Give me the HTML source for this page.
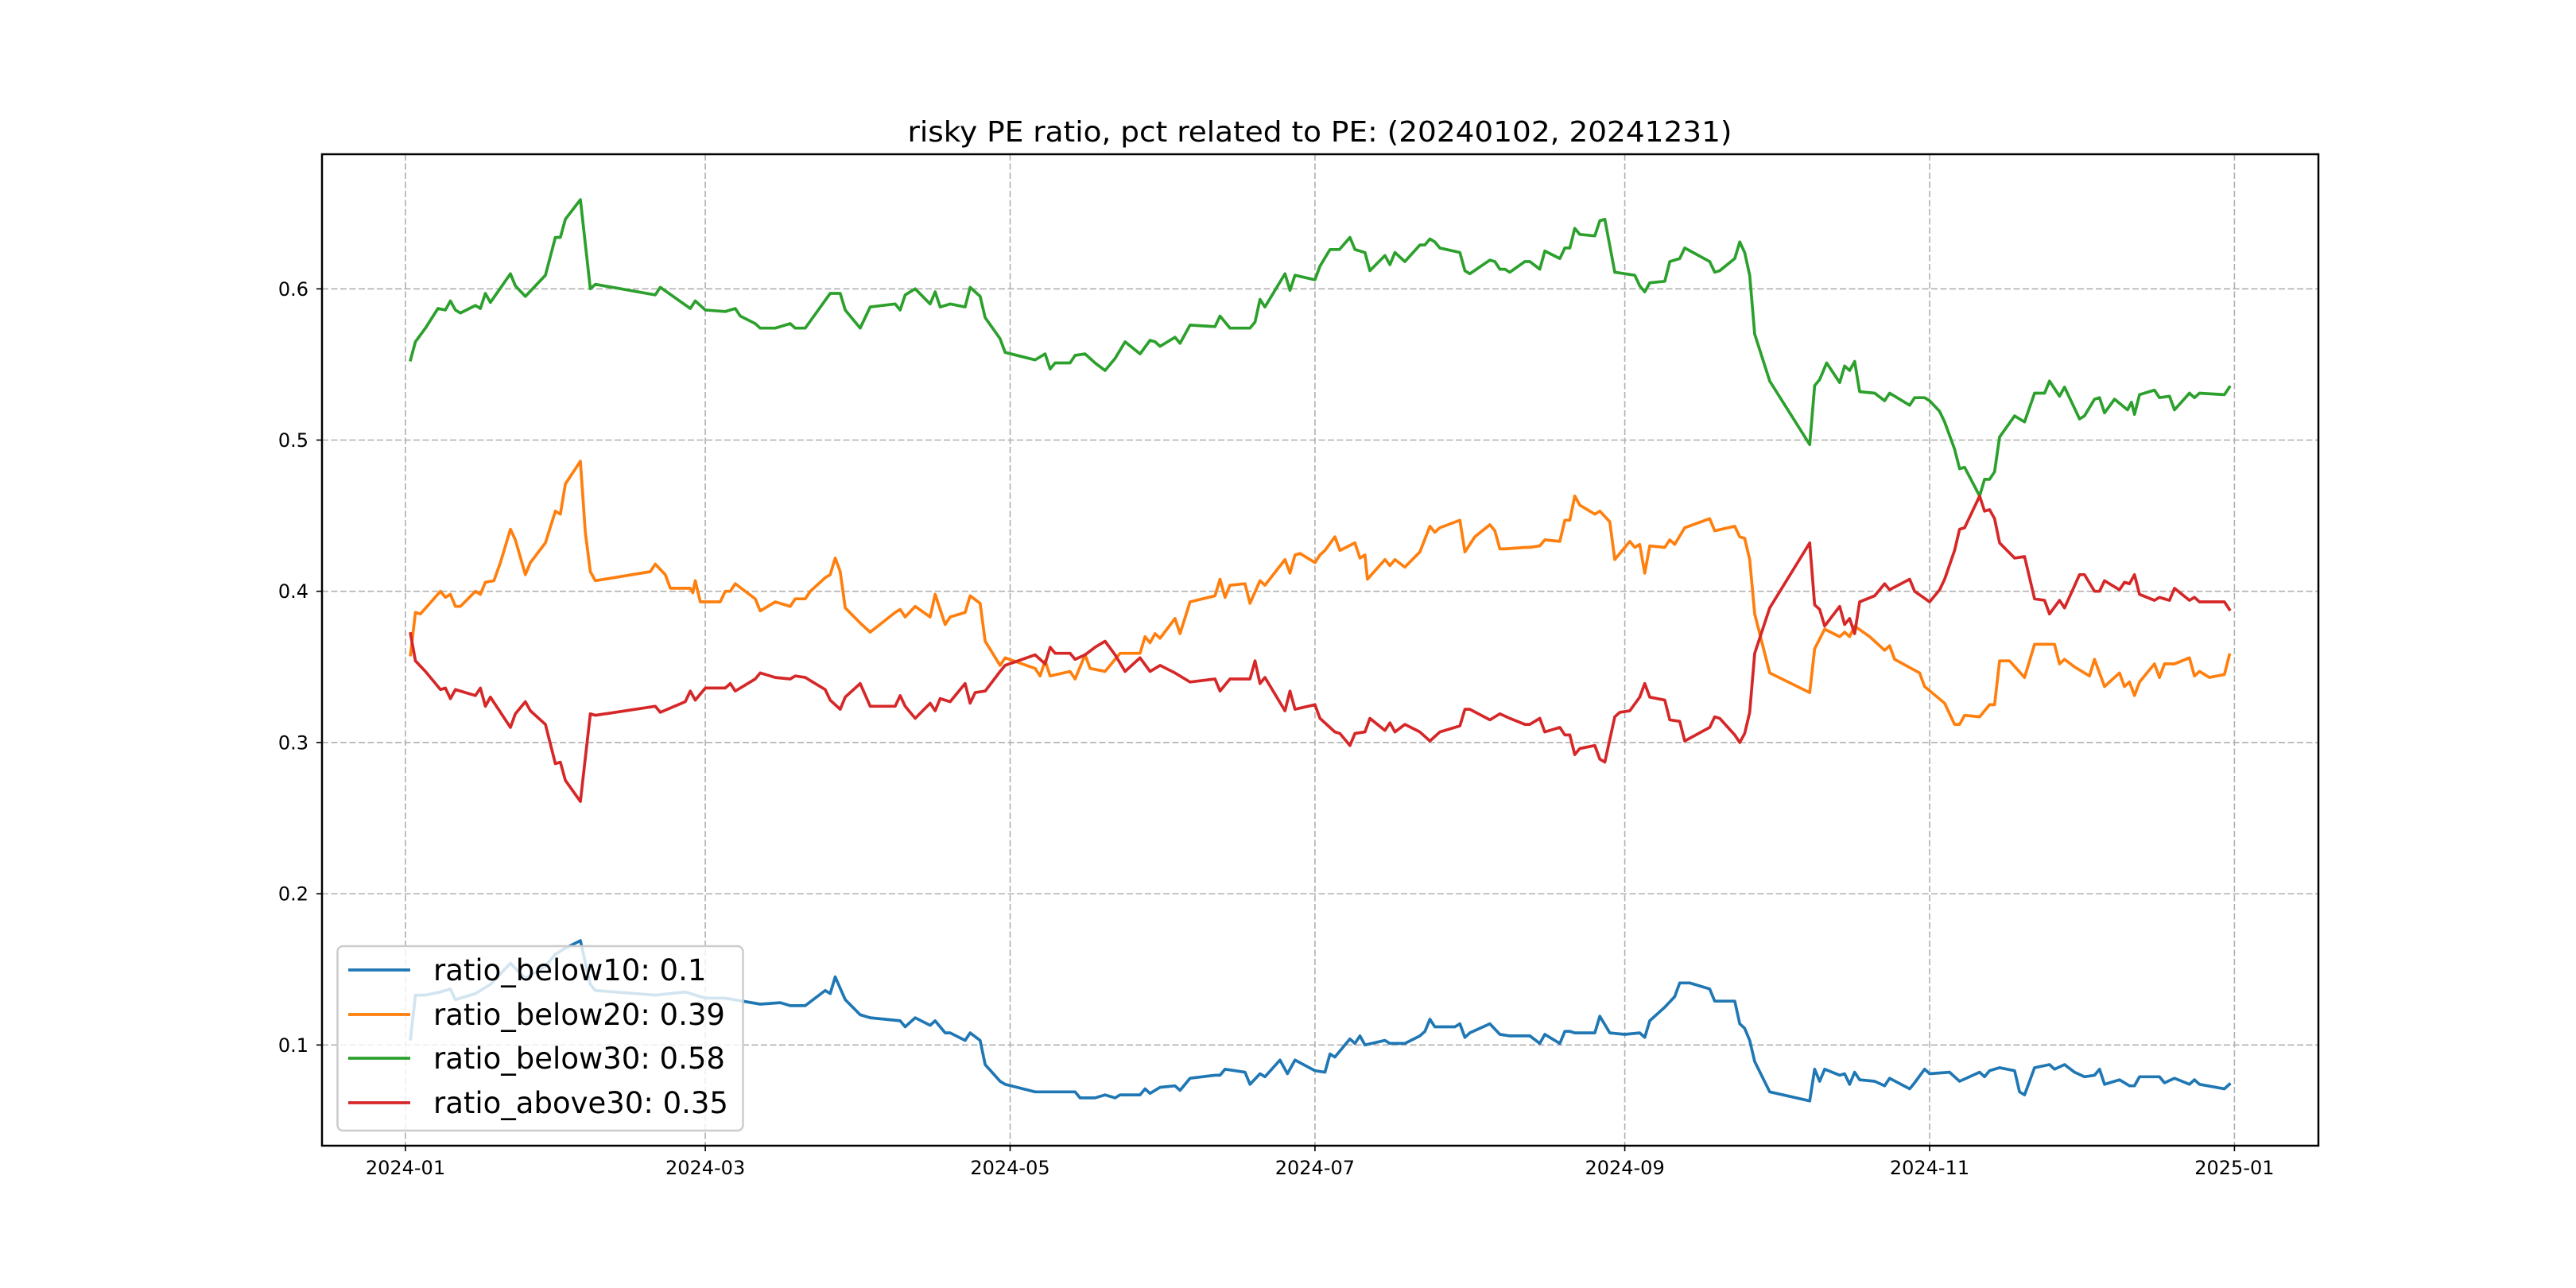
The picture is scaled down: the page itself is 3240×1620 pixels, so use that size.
<!DOCTYPE html>
<html><head><meta charset="utf-8"><style>
html,body{margin:0;padding:0;background:#fff;}
svg{display:block;}
text{font-family:"DejaVu Sans","Liberation Sans",sans-serif;}
</style></head><body>
<svg id="chart" width="3240" height="1620" viewBox="0 0 3240 1620" xmlns="http://www.w3.org/2000/svg">
<rect x="0" y="0" width="3240" height="1620" fill="#fff"/>
<text x="1660" y="178" font-size="36" text-anchor="middle" textLength="1037" lengthAdjust="spacingAndGlyphs">risky PE ratio, pct related to PE: (20240102, 20241231)</text>
<g id="grid"></g>
<g id="series"></g>
<rect x="405" y="194" width="2511" height="1247" fill="none" stroke="#000" stroke-width="2.5"/>
<g id="ticks"></g>
<g id="legend"></g>
</svg>
<script>
const yTicks = [0.1, 0.2, 0.3, 0.4, 0.5, 0.6];
const yTickLabels = ["0.1", "0.2", "0.3", "0.4", "0.5", "0.6"];
const xTickDays = [0, 60, 121, 182, 244, 305, 366];
const xTickLabels = ["2024-01", "2024-03", "2024-05", "2024-07", "2024-09", "2024-11", "2025-01"];
const seriesNames = ["ratio_below10: 0.1", "ratio_below20: 0.39", "ratio_below30: 0.58", "ratio_above30: 0.35"];
const seriesColors = ["#1f77b4", "#ff7f0e", "#2ca02c", "#d62728"];

const blueDays = [1,2,4,7,9,10,14,17,21,24,28,30,32,35,37,38,50,56,60,64,71,75,77,80,84,85,86,88,91,93,99,100,102,105,106,108,109,112,113,115,116,119,120,126,134,135,138,140,142,143,147,148,149,151,154,155,157,162,163,164,168,169,171,172,175,176.5,178,182,184,185,186,189,190,191,192,196,197,200,203,204,205,206,210,211,212,213,217,219,221,225,227,228,231,232,233,234,238,239,241,244,247,248,249,252,254,255,257,261,262,266,267,268,269,270,273,281,282,283,284,287,288,289,290,291,294,296,297,301,302,304,305,309,311,315,316,317,319,322,323,324,326,329,330,332,334,336,338,339,340,343,345,346,347,351,352,354,357,358,359,364,365];
const blueVals = [0.104,0.133,0.133,0.135,0.137,0.130,0.134,0.140,0.154,0.144,0.152,0.160,0.164,0.169,0.140,0.136,0.133,0.135,0.131,0.131,0.127,0.128,0.126,0.126,0.136,0.134,0.145,0.130,0.120,0.118,0.116,0.112,0.118,0.113,0.116,0.108,0.108,0.103,0.108,0.103,0.087,0.076,0.074,0.069,0.069,0.065,0.065,0.067,0.065,0.067,0.067,0.071,0.068,0.072,0.073,0.070,0.078,0.080,0.080,0.084,0.082,0.074,0.081,0.079,0.090,0.081,0.090,0.083,0.082,0.094,0.092,0.104,0.101,0.106,0.100,0.103,0.101,0.101,0.106,0.109,0.117,0.112,0.112,0.114,0.105,0.108,0.114,0.107,0.106,0.106,0.101,0.107,0.101,0.109,0.109,0.108,0.108,0.119,0.108,0.107,0.108,0.105,0.116,0.125,0.132,0.141,0.141,0.137,0.129,0.129,0.114,0.111,0.103,0.089,0.069,0.063,0.084,0.076,0.084,0.080,0.081,0.074,0.082,0.077,0.076,0.073,0.078,0.071,0.075,0.084,0.081,0.082,0.076,0.082,0.079,0.083,0.085,0.083,0.069,0.067,0.085,0.087,0.084,0.087,0.082,0.079,0.080,0.084,0.074,0.077,0.073,0.073,0.079,0.079,0.075,0.078,0.074,0.077,0.074,0.071,0.074];

const orangeDays = [1,2,3,7,8,9,10,11,14,15,16,17.7,19,21,22,24,25,28,30,31,32,35,36,37,38,49,50,52,53,57,57.5,58,59,63,64,65,66,70,71,74,77,78,80,81,84,85,86,87,88,91,93,98,99,100,102,105,106,108,109,112,113,115,116,119,120,126,127,128,129,133,134,136,137,140,143,147,148,149,150,151,154,155,157,162,163,164,165,168,169,171,172,176,177,178,179,182,183,184,186,187,190,191,192,192.5,196,197,198,200,203,205,206,207,211,212,214,217,218,219,220,224,225,227,228,231,232,233,234,235,238,239,241,242,245,246,247,248,249,252,253,254,256,261,262,266,267,268,269,270,273,281,282,284,287,288,289,290,293,294,296,297,298,303,304,308,310,311,312,315,317,318,319,321,324,326,330,331,332,334,337,338,340,343,344,345,346,347,350,351,352,354,357,358,359,361,364,365];
const orangeVals = [0.358,0.386,0.385,0.400,0.396,0.398,0.390,0.390,0.400,0.398,0.406,0.407,0.419,0.441,0.434,0.411,0.419,0.432,0.453,0.451,0.471,0.486,0.439,0.413,0.407,0.413,0.418,0.411,0.402,0.402,0.399,0.407,0.393,0.393,0.400,0.400,0.405,0.395,0.387,0.393,0.390,0.395,0.395,0.400,0.409,0.411,0.422,0.413,0.389,0.379,0.373,0.386,0.388,0.383,0.390,0.383,0.398,0.378,0.383,0.386,0.397,0.392,0.367,0.351,0.356,0.349,0.344,0.354,0.344,0.347,0.342,0.358,0.349,0.347,0.359,0.359,0.370,0.366,0.372,0.369,0.382,0.372,0.393,0.397,0.408,0.396,0.404,0.405,0.392,0.407,0.404,0.421,0.412,0.424,0.425,0.419,0.424,0.427,0.436,0.427,0.432,0.422,0.424,0.408,0.421,0.417,0.421,0.416,0.426,0.443,0.439,0.442,0.447,0.426,0.436,0.444,0.440,0.428,0.428,0.429,0.429,0.430,0.434,0.433,0.447,0.447,0.463,0.457,0.451,0.453,0.446,0.421,0.433,0.429,0.431,0.412,0.430,0.429,0.434,0.431,0.442,0.448,0.440,0.443,0.436,0.435,0.421,0.385,0.346,0.333,0.362,0.375,0.370,0.373,0.370,0.377,0.370,0.367,0.361,0.364,0.355,0.346,0.337,0.326,0.312,0.312,0.318,0.317,0.325,0.325,0.354,0.354,0.343,0.365,0.365,0.352,0.355,0.350,0.344,0.355,0.337,0.346,0.337,0.340,0.331,0.340,0.352,0.343,0.352,0.352,0.356,0.344,0.347,0.343,0.345,0.358];

const greenDays = [1,2,4,6.5,8,9,10,11,14,15,16,17,21,22,24,28,30,31,32,35,37,38,50,51,57,58,60,64,66,67,70,71,74,77,78,80,85,87,88,91,93,98,99,100,102,105,106,107,109,112,113,115,116,119,120,126,128,129,130,133,134,136,138,140,142,144,147,149,150,151,154,155,157,162,163,165,169,170,171,172,176,177,178,182,183,185,186.9,189,190,192,193,196,197,198,200,203,204,205,206,207,211,212,213,217,218,219,220,221,224,225,227,228,231,232,233,234,235,238,239,240,242,246,247,248,249,252,253,255,256,261,262,263,266,267,268,269,270,273,281,282,283,284.4,287,288,289,290,291,294,296,297,301,302,304,305,307,308,310,311,312,315,316,317,318,319,322,324,326,328,329,331,332,335,336,338,339,340,342,344.6,345.4,346,347,350,351,353,354,357,358,359,364,365];
const greenVals = [0.553,0.565,0.574,0.587,0.586,0.592,0.586,0.584,0.589,0.587,0.597,0.591,0.610,0.602,0.595,0.609,0.634,0.634,0.646,0.659,0.600,0.603,0.596,0.601,0.587,0.592,0.586,0.585,0.587,0.582,0.577,0.574,0.574,0.577,0.574,0.574,0.597,0.597,0.586,0.574,0.588,0.590,0.586,0.596,0.600,0.590,0.598,0.588,0.590,0.588,0.601,0.595,0.581,0.567,0.558,0.553,0.557,0.547,0.551,0.551,0.556,0.557,0.551,0.546,0.554,0.565,0.557,0.566,0.565,0.562,0.568,0.564,0.576,0.575,0.582,0.574,0.574,0.578,0.593,0.588,0.610,0.599,0.609,0.606,0.615,0.626,0.626,0.634,0.626,0.624,0.612,0.622,0.616,0.624,0.618,0.629,0.629,0.633,0.631,0.627,0.624,0.612,0.610,0.619,0.618,0.613,0.613,0.611,0.618,0.618,0.613,0.625,0.620,0.627,0.627,0.640,0.636,0.635,0.645,0.646,0.611,0.609,0.602,0.598,0.604,0.605,0.618,0.620,0.627,0.618,0.611,0.612,0.620,0.631,0.624,0.609,0.570,0.539,0.497,0.536,0.540,0.551,0.538,0.549,0.546,0.552,0.532,0.531,0.526,0.531,0.523,0.528,0.528,0.526,0.519,0.512,0.494,0.481,0.482,0.463,0.474,0.474,0.479,0.502,0.516,0.512,0.531,0.531,0.539,0.529,0.535,0.514,0.516,0.527,0.528,0.518,0.527,0.520,0.525,0.517,0.530,0.533,0.528,0.529,0.520,0.531,0.528,0.531,0.530,0.535];

const redDays = [1,2,4,7,8,9,10,14,15,16,17,21,22,24,25,28,30,31,32,35,37,38,50,51,56,57,58,60,64,65,66,70,71,74,77,78,80,84,85,87,88,91,93,98,99,100,102,105,106,107,109,112,113,114,116,119,120,126,128,129,130,133,134,136,138,140,142,144,147,149,151,154,157,162,163,165,169,170,171,172,176,177,178,182,183,186,187,189,190,192,193,196,197,198,200,203,205,207,211,212,213,217,219,221,224,225,227,228,231,232,233,234,235,238,239,240,242,243,245,247,248,249,252,253,255,256,261,262,263,266,267,268,269,270,273,281,282,283,284,287,288,289,290,291,294,296,297,301,302,305,307,308,310,311,312,315,316,317,318,319,322,324,326,328,329,331,332,335,336,338,339,340,343,344,345,346,347,350,351,353,354,357,358,359,364,365];
const redVals = [0.372,0.354,0.347,0.335,0.336,0.329,0.335,0.331,0.336,0.324,0.330,0.310,0.319,0.327,0.321,0.312,0.286,0.287,0.275,0.261,0.319,0.318,0.324,0.320,0.327,0.334,0.328,0.336,0.336,0.339,0.334,0.342,0.346,0.343,0.342,0.344,0.343,0.335,0.328,0.322,0.330,0.339,0.324,0.324,0.331,0.324,0.316,0.326,0.321,0.329,0.327,0.339,0.326,0.333,0.334,0.347,0.351,0.358,0.352,0.363,0.359,0.359,0.355,0.358,0.363,0.367,0.358,0.347,0.356,0.347,0.351,0.346,0.340,0.342,0.334,0.342,0.342,0.354,0.339,0.343,0.321,0.334,0.322,0.325,0.316,0.307,0.306,0.298,0.306,0.307,0.316,0.308,0.313,0.307,0.312,0.307,0.301,0.307,0.311,0.322,0.322,0.315,0.319,0.316,0.312,0.312,0.316,0.307,0.310,0.305,0.305,0.292,0.296,0.298,0.289,0.287,0.317,0.320,0.321,0.330,0.339,0.330,0.328,0.315,0.314,0.301,0.310,0.317,0.316,0.305,0.300,0.306,0.320,0.359,0.389,0.432,0.391,0.388,0.377,0.390,0.378,0.382,0.372,0.393,0.397,0.405,0.401,0.408,0.400,0.393,0.401,0.408,0.427,0.441,0.442,0.463,0.453,0.454,0.448,0.432,0.422,0.423,0.395,0.394,0.385,0.394,0.389,0.411,0.411,0.400,0.400,0.407,0.401,0.406,0.405,0.411,0.398,0.394,0.396,0.394,0.402,0.394,0.396,0.393,0.393,0.388];

const NS = "http://www.w3.org/2000/svg";
const AX = {left:405, right:2916, top:194, bottom:1441};
const xDomain = [-16.7, 382.8];
const yDomain = [0.0334, 0.689];
function xScale(d){ return AX.left + (d - xDomain[0]) / (xDomain[1] - xDomain[0]) * (AX.right - AX.left); }
function yScale(v){ return AX.bottom - (v - yDomain[0]) / (yDomain[1] - yDomain[0]) * (AX.bottom - AX.top); }
function mk(tag, attrs, parent){
  const e = document.createElementNS(NS, tag);
  for (const k in attrs) e.setAttribute(k, attrs[k]);
  parent.appendChild(e);
  return e;
}
const grid = document.getElementById('grid');
const ticks = document.getElementById('ticks');
yTicks.forEach((v, i) => {
  const y = yScale(v);
  const g = mk('line', {x1:AX.left, x2:AX.right, y1:y, y2:y, stroke:'#b0b0b0', 'stroke-width':1.6, 'stroke-dasharray':'8,3.5'}, grid);
  
  
  const t = mk('line', {x1:AX.left-7, x2:AX.left, y1:y, y2:y, stroke:'#000', 'stroke-width':1.6}, ticks);
  
  
  const l = mk('text', {x:AX.left-17, y:y+8.5, 'font-size':24, 'text-anchor':'end'}, ticks);
  l.textContent = yTickLabels[i];
  
  
});
xTickDays.forEach((d, i) => {
  const x = xScale(d);
  const g = mk('line', {x1:x, x2:x, y1:AX.top, y2:AX.bottom, stroke:'#b0b0b0', 'stroke-width':1.6, 'stroke-dasharray':'8,3.5'}, grid);
  
  
  const t = mk('line', {x1:x, x2:x, y1:AX.bottom, y2:AX.bottom+7, stroke:'#000', 'stroke-width':1.6}, ticks);
  
  
  const l = mk('text', {x:x, y:AX.bottom+36, 'font-size':24, 'text-anchor':'middle'}, ticks);
  l.textContent = xTickLabels[i];
  
  
});
const seriesG = document.getElementById('series');
const allDays = [blueDays, orangeDays, greenDays, redDays];
const allVals = [blueVals, orangeVals, greenVals, redVals];
const lineNames = ['line-ratio-below10', 'line-ratio-below20', 'line-ratio-below30', 'line-ratio-above30'];
allDays.forEach((days, s) => {
  const vals = allVals[s];
  const pts = days.map((d, i) => xScale(d).toFixed(1) + ',' + yScale(vals[i]).toFixed(1)).join(' ');
  const p = mk('polyline', {points:pts, fill:'none', stroke:seriesColors[s], 'stroke-width':3.7, 'stroke-linejoin':'round', 'stroke-linecap':'square'}, seriesG);
  
  
});
const legend = document.getElementById('legend');
const box = mk('rect', {x:424.5, y:1190, width:510, height:232, rx:7, fill:'#fff', 'fill-opacity':0.8, stroke:'#cccccc', 'stroke-width':2.5}, legend);


const legendY = [1220, 1276, 1331, 1387];
seriesNames.forEach((name, i) => {
  const ln = mk('line', {x1:438, x2:516, y1:legendY[i], y2:legendY[i], stroke:seriesColors[i], 'stroke-width':3.7}, legend);
  
  
  const tx = mk('text', {x:545, y:legendY[i]+13, 'font-size':37}, legend);
  tx.textContent = name;
  
  
});
</script>
</body></html>
